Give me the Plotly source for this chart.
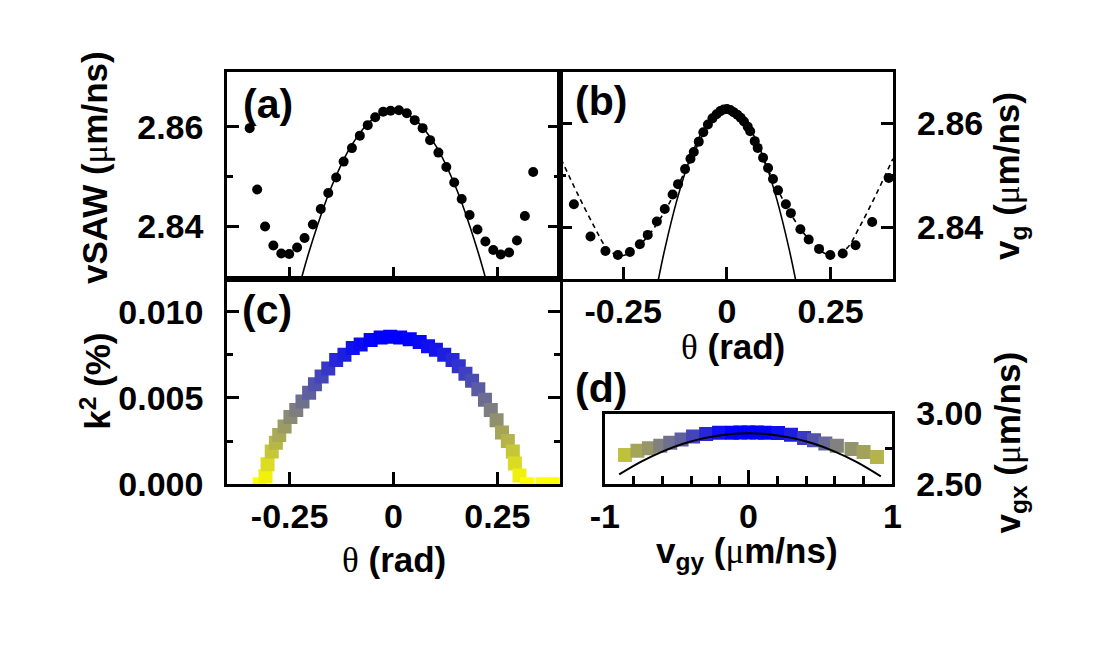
import plotly.graph_objects as go

# ---------------- data ----------------
# (a) SAW phase velocity vs angle
theta_a = [-0.346, -0.328, -0.309, -0.289, -0.270, -0.251, -0.232, -0.214, -0.194, -0.175,
           -0.157, -0.138, -0.120, -0.100, -0.081, -0.062, -0.044, -0.025, -0.007, 0.013,
           0.032, 0.051, 0.070, 0.088, 0.108, 0.127, 0.146, 0.164, 0.183, 0.202,
           0.221, 0.240, 0.258, 0.278, 0.297, 0.316, 0.336]
vsaw_a = [2.8597, 2.8474, 2.8400, 2.8362, 2.8346, 2.8345, 2.8358, 2.8377, 2.8404, 2.8435,
          2.8467, 2.8498, 2.8530, 2.8557, 2.8582, 2.8603, 2.8619, 2.8630, 2.8632, 2.8633,
          2.8627, 2.8613, 2.8597, 2.8573, 2.8548, 2.8519, 2.8488, 2.8455, 2.8423, 2.8394,
          2.8370, 2.8353, 2.8344, 2.8348, 2.8372, 2.8421, 2.8509]
theta_fit_a = [-0.23, -0.20, -0.15, -0.10, -0.05, 0.0, 0.05, 0.10, 0.15, 0.20, 0.23]
vsaw_fit_a = [2.8270, 2.8358, 2.8478, 2.8564, 2.8615, 2.8632, 2.8615, 2.8564, 2.8478, 2.8358, 2.8270]

# (b) group velocity vs angle
theta_b = [-0.369, -0.329, -0.293, -0.263, -0.234, -0.210, -0.191, -0.169, -0.150, -0.131,
           -0.118, -0.101, -0.088, -0.080, -0.068, -0.057, -0.046, -0.035, -0.025, -0.016,
           -0.008, 0.000, 0.008, 0.016, 0.025, 0.033, 0.041, 0.050, 0.056, 0.067,
           0.074, 0.087, 0.099, 0.111, 0.123, 0.142, 0.154, 0.177, 0.197, 0.222,
           0.249, 0.279, 0.310, 0.350, 0.390]
vg_b = [2.8444, 2.8382, 2.8354, 2.8346, 2.8352, 2.8367, 2.8385, 2.8411, 2.8435, 2.8463,
        2.8483, 2.8512, 2.8532, 2.8545, 2.8565, 2.8583, 2.8598, 2.8610, 2.8618, 2.8624,
        2.8627, 2.8628, 2.8626, 2.8622, 2.8617, 2.8611, 2.8604, 2.8594, 2.8585, 2.8566,
        2.8553, 2.8534, 2.8514, 2.8493, 2.8471, 2.8444, 2.8427, 2.8396, 2.8376, 2.8358,
        2.8346, 2.8349, 2.8365, 2.8410, 2.8495]
theta_fit_b = [-0.17, -0.15, -0.12, -0.09, -0.06, -0.03, 0.0, 0.03, 0.06, 0.09, 0.12, 0.15, 0.17]
vg_fit_b = [2.8280, 2.8357, 2.8454, 2.8530, 2.8584, 2.8616, 2.8627, 2.8616, 2.8584, 2.8530,
            2.8454, 2.8357, 2.8280]
theta_model_b = [-0.40, -0.36, -0.32, -0.29, -0.26, -0.23, -0.20, -0.17, -0.14, -0.11, -0.08,
                 -0.05, -0.025, 0.0, 0.025, 0.05, 0.08, 0.11, 0.14, 0.17, 0.20, 0.23, 0.26,
                 0.29, 0.32, 0.36, 0.40]
vg_model_b = [2.8532, 2.8464, 2.8401, 2.8360, 2.8345, 2.8352, 2.8374, 2.8405, 2.8445, 2.8493,
              2.8543, 2.8590, 2.8617, 2.8627, 2.8617, 2.8590, 2.8543, 2.8493, 2.8445, 2.8405,
              2.8374, 2.8352, 2.8345, 2.8360, 2.8401, 2.8464, 2.8532]

# (c) coupling coefficient vs angle
theta_c = [-0.322, -0.308, -0.303, -0.293, -0.283, -0.275, -0.262, -0.248, -0.234, -0.219,
           -0.203, -0.189, -0.173, -0.157, -0.138, -0.118, -0.098, -0.079, -0.055, -0.031,
           -0.008, 0.016, 0.039, 0.063, 0.083, 0.102, 0.122, 0.142, 0.157, 0.173,
           0.189, 0.204, 0.220, 0.234, 0.248, 0.261, 0.275, 0.287, 0.292, 0.303,
           0.321, 0.358, 0.385]
k2_c = [0.0, 0.00046, 0.00116, 0.00189, 0.0024, 0.00285, 0.00335, 0.0039, 0.0043, 0.0048,
        0.0053, 0.0058, 0.00625, 0.0067, 0.0072, 0.0075, 0.0079, 0.0081, 0.00836, 0.0085,
        0.00855, 0.0085, 0.0084, 0.00824, 0.0080, 0.0078, 0.0075, 0.0072, 0.00684, 0.0064,
        0.0060, 0.0055, 0.0049, 0.0043, 0.0037, 0.0030, 0.0025, 0.0019, 0.0012, 0.0005,
        0.0, 0.0, 0.0]

# (d) group velocity components
vgy_d = [-0.859, -0.773, -0.693, -0.614, -0.545, -0.466, -0.386, -0.295, -0.205, -0.114, -0.057,
         0.0, 0.057, 0.114, 0.205, 0.295, 0.386, 0.455, 0.534, 0.614, 0.716, 0.800, 0.893]
vgx_d = [2.706, 2.737, 2.754, 2.772, 2.794, 2.816, 2.838, 2.856, 2.865, 2.865, 2.866,
         2.866, 2.866, 2.865, 2.862, 2.850, 2.827, 2.812, 2.788, 2.772, 2.750, 2.728, 2.692]
k2_d = [0.0021, 0.0030, 0.0035, 0.0042, 0.0048, 0.0053, 0.0062, 0.0072, 0.0080, 0.0084, 0.0085,
        0.0085, 0.0085, 0.0084, 0.0080, 0.0075, 0.0066, 0.0058, 0.0050, 0.0042, 0.0036, 0.0031,
        0.0025]
vgy_line = [-0.90, -0.75, -0.60, -0.45, -0.30, -0.15, 0.0, 0.15, 0.30, 0.45, 0.60, 0.75, 0.92]
vgx_line = [2.569, 2.658, 2.731, 2.788, 2.828, 2.8525, 2.8606, 2.8525, 2.828, 2.788, 2.731,
            2.658, 2.556]

# tick labels
theta_ticks = [-0.25, 0, 0.25]
theta_ticktext = ["-0.25", "0", "0.25"]
v_ticks = [2.84, 2.86]
v_ticktext = ["2.84", "2.86"]
k2_ticks = [0.0, 0.005, 0.010]
k2_ticktext = ["0.000", "0.005", "0.010"]
vgy_ticks = [-1, 0, 1]
vgy_ticktext = ["-1", "0", "1"]
vgx_ticks = [2.5, 3.0]
vgx_ticktext = ["2.50", "3.00"]

# ---------------- styling ----------------
W, H = 1095, 652
SANS = "Liberation Sans, Arial, sans-serif"
SERIF = "Liberation Serif, Times New Roman, serif"
TICKFONT = dict(family=SANS, size=34, color="black", weight=700)
LW = 3
CSCALE = [[0, "rgb(255,255,0)"], [1, "rgb(0,0,255)"]]


def dx(px):
    return px / W


def dy(py):
    return 1 - py / H


def sym(ch):
    return f'<span style="font-family:{SERIF};font-weight:normal">{ch}</span>'


base_axis = dict(showline=True, linewidth=LW, linecolor="black", ticks="inside",
                 tickwidth=2.5, tickcolor="black", zeroline=False, showgrid=False,
                 tickfont=TICKFONT, ticklen=12, tickmode="array")

fig = go.Figure()

# (a)
fig.add_trace(go.Scatter(x=theta_fit_a, y=vsaw_fit_a, mode="lines", line=dict(color="black", width=1.6, shape="spline"),
                         xaxis="x", yaxis="y", showlegend=False))
fig.add_trace(go.Scatter(x=theta_a, y=vsaw_a, mode="markers", marker=dict(color="black", size=10),
                         xaxis="x", yaxis="y", showlegend=False))
# (b)
fig.add_trace(go.Scatter(x=theta_model_b, y=vg_model_b, mode="lines",
                         line=dict(color="black", width=1.6, dash="5px,4px", shape="spline"),
                         xaxis="x2", yaxis="y2", showlegend=False))
fig.add_trace(go.Scatter(x=theta_fit_b, y=vg_fit_b, mode="lines", line=dict(color="black", width=1.6, shape="spline"),
                         xaxis="x2", yaxis="y2", showlegend=False))
fig.add_trace(go.Scatter(x=theta_b, y=vg_b, mode="markers", marker=dict(color="black", size=10),
                         xaxis="x2", yaxis="y2", showlegend=False))
# (c)
fig.add_trace(go.Scatter(x=theta_c, y=k2_c, mode="markers",
                         marker=dict(symbol="square", size=14, color=k2_c, colorscale=CSCALE,
                                     cmin=0, cmax=0.0085, line=dict(width=0)),
                         xaxis="x3", yaxis="y3", showlegend=False))
# (d)
fig.add_trace(go.Scatter(x=vgy_d, y=vgx_d, mode="markers",
                         marker=dict(symbol="square", size=14, color=k2_d, colorscale=CSCALE,
                                     cmin=0, cmax=0.0085, line=dict(width=0)),
                         xaxis="x4", yaxis="y4", showlegend=False))
fig.add_trace(go.Scatter(x=vgy_line, y=vgx_line, mode="lines", line=dict(color="black", width=2, shape="spline"),
                         xaxis="x4", yaxis="y4", showlegend=False))

# domains (pixel boxes)
A = (217, 557, 56, 276)
B = (557, 898, 56, 276)
C = (217, 557, 276, 494)
D = (603, 897, 419, 494)

fig.update_layout(
    width=W, height=H, margin=dict(l=0, r=0, t=0, b=0),
    paper_bgcolor="white", plot_bgcolor="white",
    font=dict(family=SANS, color="black"),
    xaxis=dict(base_axis, domain=[dx(A[0]), dx(A[1])], anchor="y", range=[-0.4, 0.4],
               tickvals=theta_ticks, showticklabels=False, mirror=True),
    yaxis=dict(base_axis, domain=[dy(A[3]), dy(A[2])], anchor="x", range=[2.8295, 2.871],
               tickvals=v_ticks, ticktext=v_ticktext, mirror="ticks", ticklabelstandoff=14,
               minor=dict(tickvals=[2.85], ticks="inside", ticklen=6, tickwidth=2.5, tickcolor="black")),
    xaxis2=dict(base_axis, domain=[dx(B[0]), dx(B[1])], anchor="y2", range=[-0.403, 0.401],
                tickvals=theta_ticks, ticktext=theta_ticktext, mirror=True, ticklabelstandoff=0),
    yaxis2=dict(base_axis, domain=[dy(B[3]), dy(B[2])], anchor="x2", range=[2.83, 2.87], side="right",
                tickvals=v_ticks, ticktext=v_ticktext, mirror="ticks", ticklabelstandoff=14,
                minor=dict(tickvals=[2.85], ticks="inside", ticklen=6, tickwidth=2.5, tickcolor="black")),
    xaxis3=dict(base_axis, domain=[dx(C[0]), dx(C[1])], anchor="y3", range=[-0.4, 0.4],
                tickvals=theta_ticks, ticktext=theta_ticktext, mirror=True, ticklabelstandoff=0),
    yaxis3=dict(base_axis, domain=[dy(C[3]), dy(C[2])], anchor="x3", range=[0, 0.0119],
                tickvals=k2_ticks, ticktext=k2_ticktext, mirror="ticks", ticklabelstandoff=14,
                minor=dict(tickvals=[0.0025, 0.0075], ticks="inside", ticklen=6, tickwidth=2.5, tickcolor="black")),
    xaxis4=dict(base_axis, domain=[dx(D[0]), dx(D[1])], anchor="y4", range=[-1, 1],
                tickvals=vgy_ticks, ticktext=vgy_ticktext, mirror=True, ticklen=14, ticklabelstandoff=0,
                minor=dict(tickvals=[-0.8, -0.6, -0.4, -0.2, 0.2, 0.4, 0.6, 0.8], ticks="inside",
                           ticklen=8, tickwidth=2.5, tickcolor="black")),
    yaxis4=dict(base_axis, domain=[dy(D[3]), dy(D[2])], anchor="x4", range=[2.5, 3.0], side="right",
                tickvals=vgx_ticks, ticktext=vgx_ticktext, mirror=True, ticklabelstandoff=14,
                minor=dict(tickvals=[2.75], ticks="inside", ticklen=7, tickwidth=2.5, tickcolor="black")),
)

TITLEFONT = dict(family=SANS, size=35, color="black", weight=700)
LABELFONT = dict(family=SANS, size=41, color="black", weight=700)
mu = sym("μ")
th = sym("θ")

annos = [
    # panel labels
    dict(text="(a)", x=dx(231), y=dy(90), xanchor="left", yanchor="middle", font=LABELFONT),
    dict(text="(b)", x=dx(571), y=dy(87), xanchor="left", yanchor="middle", font=LABELFONT),
    dict(text="(c)", x=dx(230), y=dy(309), xanchor="left", yanchor="middle", font=LABELFONT),
    dict(text="(d)", x=dx(571), y=dy(392), xanchor="left", yanchor="middle", font=LABELFONT),
    # axis titles
    dict(text=f"vSAW ({mu}m/ns)", x=dx(82), y=dy(158), textangle=-90, font=TITLEFONT),
    dict(text="k<sup>2</sup> (%)", x=dx(82), y=dy(385), textangle=-90, font=TITLEFONT),
    dict(text=f"{th} (rad)", x=dx(734), y=dy(348), font=TITLEFONT),
    dict(text=f"{th} (rad)", x=dx(387), y=dy(574), font=TITLEFONT),
    dict(text=f"v<sub>g</sub> ({mu}m/ns)", x=dx(1017), y=dy(167), textangle=-90, font=TITLEFONT),
    dict(text=f"v<sub>gx</sub> ({mu}m/ns)", x=dx(1017), y=dy(450), textangle=-90, font=TITLEFONT),
    dict(text=f"v<sub>gy</sub> ({mu}m/ns)", x=dx(748), y=dy(567), font=TITLEFONT),
]
for a in annos:
    a.update(xref="paper", yref="paper", showarrow=False)
    a.setdefault("xanchor", "center")
    a.setdefault("yanchor", "middle")
fig.update_layout(annotations=annos)

fig.write_html("out.html",
               post_script="document.body.style.margin='0';document.body.style.padding='0';")
